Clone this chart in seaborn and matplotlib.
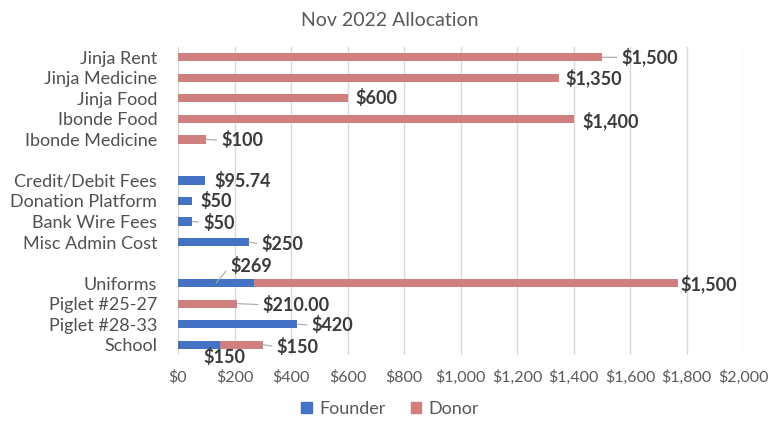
import matplotlib
matplotlib.use("Agg")
import matplotlib.pyplot as plt
import seaborn as sns
import pandas as pd
from matplotlib.patches import Patch
from matplotlib.ticker import FuncFormatter

# ---- data ----
categories = ["Jinja Rent", "Jinja Medicine", "Jinja Food", "Ibonde Food", "Ibonde Medicine",
              " ",
              "Credit/Debit Fees", "Donation Platform", "Bank Wire Fees", "Misc Admin Cost",
              "  ",
              "Uniforms", "Piglet #25-27", "Piglet #28-33", "School"]
founder = [0, 0, 0, 0, 0,
           0,
           95.74, 50, 50, 250,
           0,
           269, 0, 420, 150]
donor = [1500, 1350, 600, 1400, 100,
         0,
         0, 0, 0, 0,
         0,
         1500, 210, 0, 150]
founder_labels = ["", "", "", "", "",
                  "",
                  "$95.74", "$50", "$50", "$250",
                  "",
                  "$269", "", "$420", "$150"]
donor_labels = ["$1,500", "$1,350", "$600", "$1,400", "$100",
                "",
                "", "", "", "",
                "",
                "$1,500", "$210.00", "", "$150"]
x_ticks = [0, 200, 400, 600, 800, 1000, 1200, 1400, 1600, 1800, 2000]

df = pd.DataFrame({"category": categories, "Founder": founder, "Donor": donor})
df["Total"] = df["Founder"] + df["Donor"]

FOUNDER_C = "#4472C4"
DONOR_C = "#D07F7F"
TEXT_C = "#595959"
CAT_C = "#505050"
LABEL_C = "#3A3A3A"
FONT = ["Lato", "DejaVu Sans"]
VAL_FS = 13

sns.set_theme(style="white")
plt.rcParams["font.family"] = FONT

fig = plt.figure(figsize=(7.8, 4.29), dpi=100)
ax = fig.add_axes([178 / 780, 1 - 355 / 429, (743 - 178) / 780, (355 - 47) / 429])

sns.barplot(data=df, y="category", x="Total", order=categories, color=DONOR_C,
            saturation=1, width=0.4, errorbar=None, orient="h", linewidth=0, ax=ax)
sns.barplot(data=df, y="category", x="Founder", order=categories, color=FOUNDER_C,
            saturation=1, width=0.4, errorbar=None, orient="h", linewidth=0, ax=ax)

ax.set_xlim(0, 2000)
ax.set_ylim(len(categories) - 0.5, -0.5)
ax.set_xticks(x_ticks)
ax.xaxis.set_major_formatter(FuncFormatter(lambda v, p: f"${v:,.0f}"))
ax.grid(axis="x", color="#D9D9D9", linewidth=1)
ax.set_axisbelow(True)
for s in ax.spines.values():
    s.set_visible(False)
ax.tick_params(axis="both", length=0)
ax.tick_params(axis="x", labelsize=11.5, pad=11, labelcolor=TEXT_C)
ax.tick_params(axis="y", labelsize=13, pad=15, labelcolor=CAT_C)
ax.set_xlabel("")
ax.set_ylabel("")

# label layout (pixel offsets: dx, dy, leader line)
PX = 72 / 100.0
donor_layout = {0: (20, 0, True), 1: (6, 0, False), 2: (8, 0, False), 3: (9, 2, False),
                4: (15, 1, True), 11: (3, 1, False), 12: (25, 1, True), 14: (14, 2, True)}
founder_layout = {6: (9, 1, False), 7: (8, 0, False), 8: (11, 1, True), 9: (13, 2, True),
                  13: (15, 1, True)}
LEADER = dict(arrowstyle="-", color="#A6A6A6", lw=0.8, shrinkA=1, shrinkB=0, relpos=(0, 0.5))

for i, lab in enumerate(donor_labels):
    if not lab:
        continue
    dx, dy, leader = donor_layout[i]
    end = founder[i] + donor[i]
    ax.annotate(lab, xy=(end, i), xytext=(dx * PX, -dy * PX), textcoords="offset points",
                ha="left", va="center", fontsize=VAL_FS, fontweight="bold", color=LABEL_C,
                arrowprops=LEADER if leader else None)

for i, lab in enumerate(founder_labels):
    if not lab:
        continue
    if i == 11:  # Uniforms founder label above bar
        ax.annotate(lab, xy=(founder[i] / 2, i), xytext=(14 * PX, 17 * PX),
                    textcoords="offset points", ha="left", va="center", fontsize=VAL_FS,
                    fontweight="bold", color=LABEL_C, arrowprops=LEADER)
        continue
    if i == 14:  # School founder label below bar
        ax.annotate(lab, xy=(founder[i], i), xytext=(4 * PX, -12 * PX),
                    textcoords="offset points", ha="center", va="center", fontsize=VAL_FS,
                    fontweight="bold", color=LABEL_C)
        continue
    dx, dy, leader = founder_layout[i]
    ax.annotate(lab, xy=(founder[i], i), xytext=(dx * PX, -dy * PX), textcoords="offset points",
                ha="left", va="center", fontsize=VAL_FS, fontweight="bold", color=LABEL_C,
                arrowprops=LEADER if leader else None)

fig.suptitle("Nov 2022 Allocation", x=0.5, y=1 - 20 / 429, va="center",
             fontsize=14, color=TEXT_C)

handles = [Patch(color=FOUNDER_C, label="Founder"), Patch(color=DONOR_C, label="Donor")]
fig.legend(handles=handles, loc="center", bbox_to_anchor=(0.5, 1 - 409 / 429), ncol=2,
           frameon=False, fontsize=13, handlelength=0.6, handleheight=0.6,
           handletextpad=0.4, columnspacing=1.4, labelcolor=TEXT_C)

fig.savefig("out.png", dpi=100)
